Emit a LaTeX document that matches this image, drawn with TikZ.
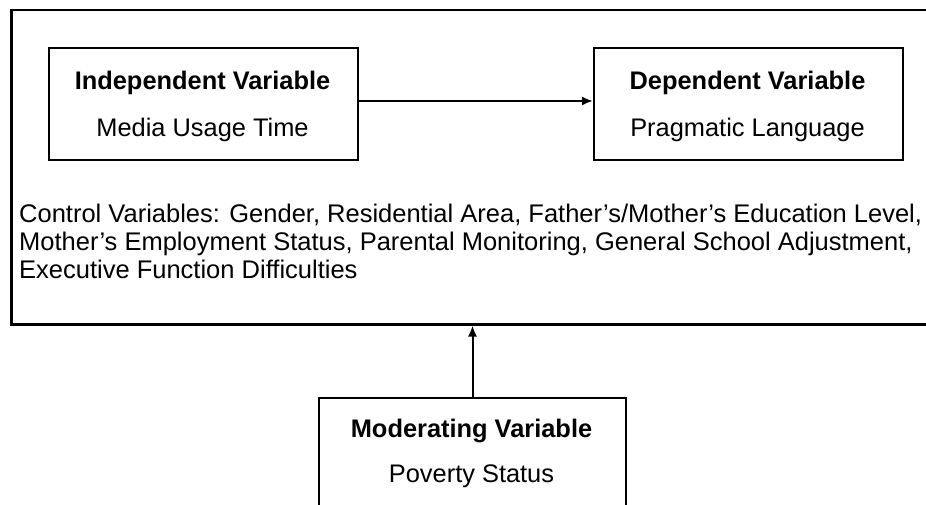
\documentclass[tikz,border=0pt]{standalone}
\usepackage{fontspec}
\setmainfont{Liberation Sans}
\usetikzlibrary{arrows.meta}
\begin{document}
\begin{tikzpicture}[x=1pt,y=-1pt,
  box/.style={draw,line width=2pt,rectangle,inner sep=0pt,anchor=north west},
  ttl/.style={anchor=base,inner sep=0pt,font=\fontsize{25.4}{28}\selectfont\bfseries},
  sub/.style={anchor=base,inner sep=0pt,font=\fontsize{25.4}{28}\selectfont},
  conn/.style={line width=2pt,-{Latex[length=11pt,width=9pt]}}]
\useasboundingbox (0,0) rectangle (926,505);
\clip (0,0) rectangle (926,505);
\node[box,line width=2.5pt,minimum width=930pt,minimum height=314pt] (outer) at (10,9) {};
\node[box,minimum width=309pt,minimum height=112pt] (iv) at (48,47) {};
\node[box,minimum width=309pt,minimum height=112pt] (dv) at (593,47) {};
\node[box,minimum width=307pt,minimum height=130pt] (mv) at (318,397) {};
\node[ttl] (ivt) at (202.5,90) {Independent Variable};
\node[sub] (ivs) at (202.5,137) {Media Usage Time};
\node[ttl] (dvt) at (747.5,90) {Dependent Variable};
\node[sub] (dvs) at (747.5,137) {Pragmatic Language};
\node[ttl] (mvt) at (471.5,437) {Moderating Variable};
\node[sub] (mvs) at (471.5,482) {Poverty Status};
\node[anchor=base west,inner sep=0pt,align=left,font=\fontsize{25.5}{28}\selectfont] (ctrl) at (19,278)
  {Control Variables: Gender, Residential Area, Father’s/Mother’s Education Level,\\
   Mother’s Employment Status, Parental Monitoring, General School Adjustment,\\
   Executive Function Difficulties};
\draw[conn] ([yshift=3pt]iv.east) -- ([yshift=3pt]dv.west);
\draw[conn] (mv.north) -- (mv.north |- outer.south);
\end{tikzpicture}
\end{document}
